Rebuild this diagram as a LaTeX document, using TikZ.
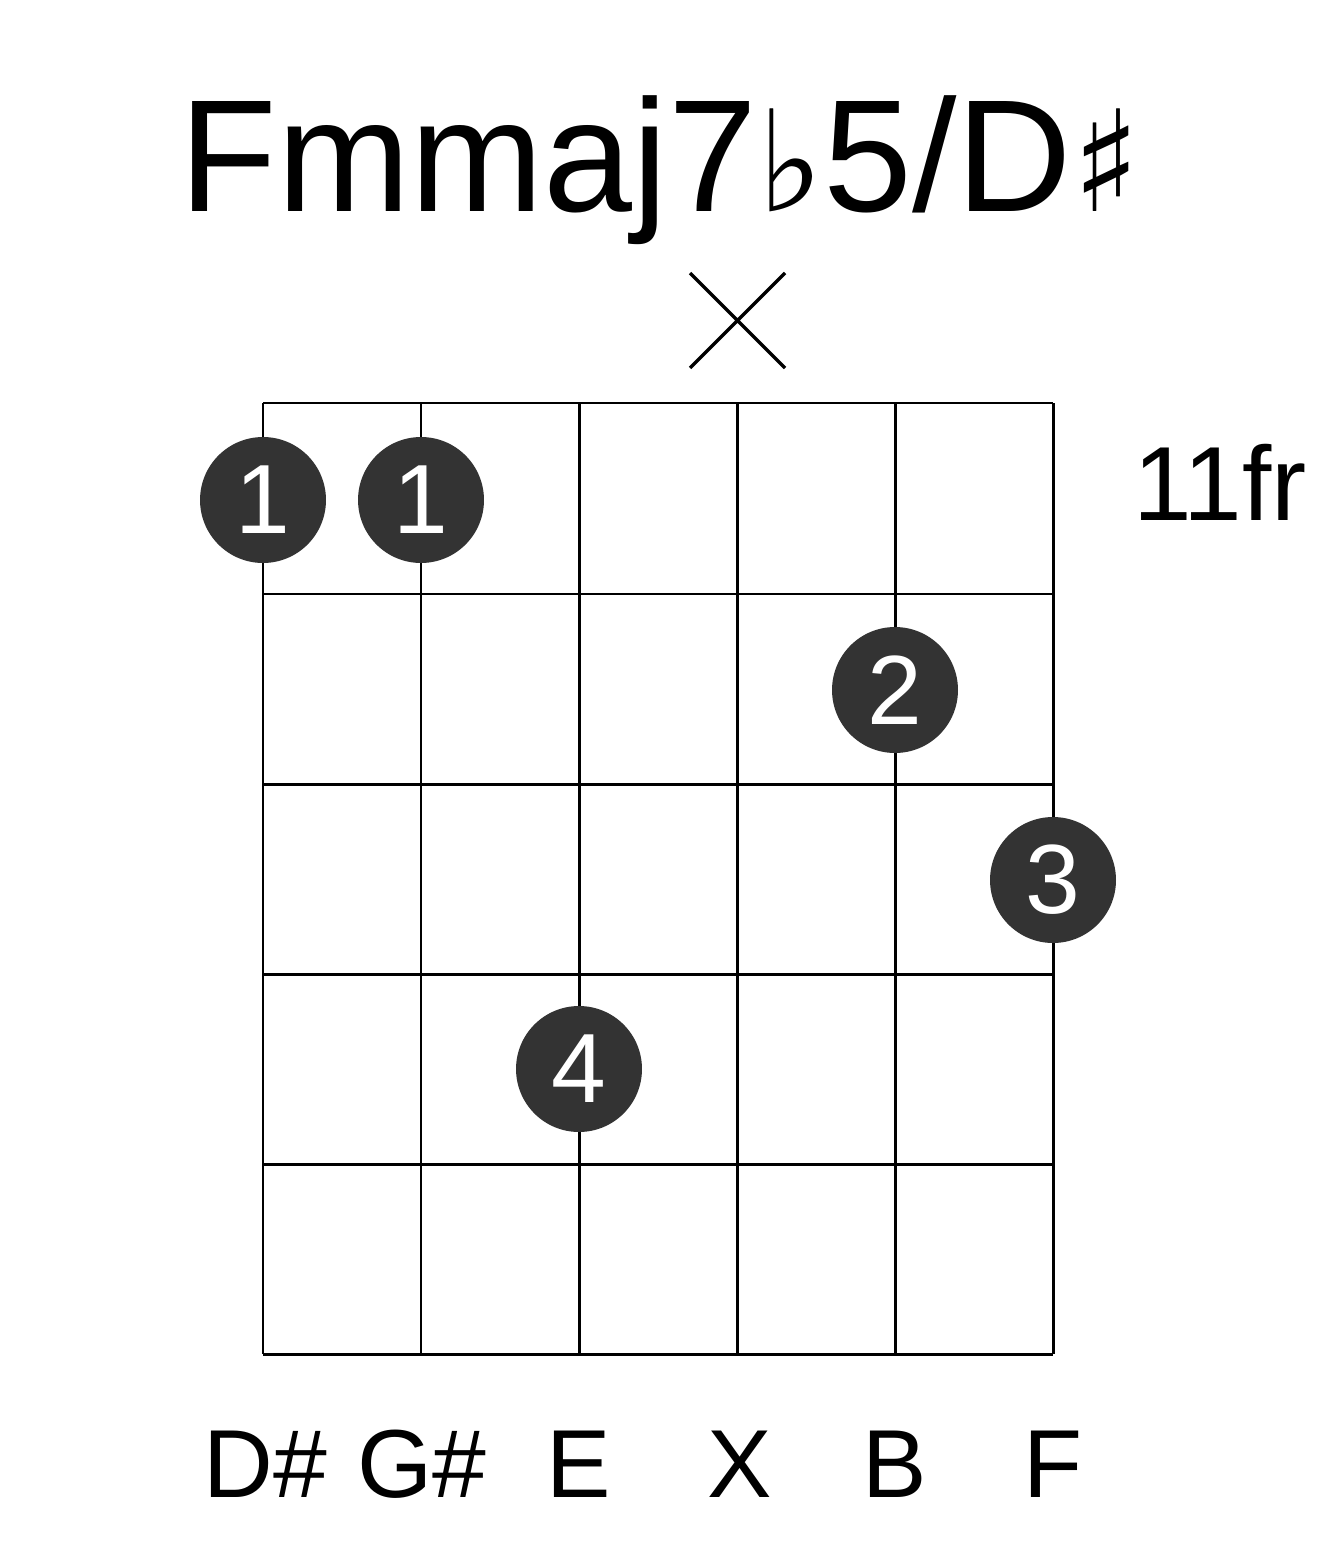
\documentclass[tikz,border=0pt]{standalone}
\usepackage{fontspec}
\setmainfont{Liberation Sans}
\newfontfamily\symfont{DejaVu Sans}
\begin{document}
\begin{tikzpicture}[x=0.02cm,y=-0.02cm,
  finger/.style={circle, fill=black!80, minimum size=2.52cm, inner sep=0pt, text=white, font=\fontsize{56}{56}\selectfont},
  lbl/.style={anchor=base, font=\fontsize{55}{55}\selectfont}]

\useasboundingbox (0,0) rectangle (1317,1551);

\node[anchor=base, font=\fontsize{91}{91}\selectfont] (title) at (660,212) {Fmmaj7{\symfont\fontsize{80}{80}\selectfont ♭}5/D{\symfont\fontsize{80}{80}\selectfont ♯}};

\draw[line width=2pt] (690,273) -- (785,368) (785,273) -- (690,368);

\foreach \y in {403,594,784,974,1164,1354}
  \draw[line width=1.7pt] (263,\y) -- (1053,\y);
\foreach \x in {263,421,579,737,895,1053}
  \draw[line width=1.7pt] (\x,403) -- (\x,1354);

\node[lbl, font=\fontsize{60}{60}\selectfont] (fret) at (1220,520) {11fr};

\node[finger] (f1) at (263,500) {1};
\node[finger] (f2) at (421,500) {1};
\node[finger] (f3) at (895,690) {2};
\node[finger] (f4) at (1053,880) {3};
\node[finger] (f5) at (579,1069) {4};

\node[lbl] (s1) at (265,1497) {D\#};
\node[lbl] (s2) at (422,1497) {G\#};
\node[lbl] (s3) at (579,1497) {E};
\node[lbl] (s4) at (740,1497) {X};
\node[lbl] (s5) at (895,1497) {B};
\node[lbl] (s6) at (1053,1497) {F};

\end{tikzpicture}
\end{document}
